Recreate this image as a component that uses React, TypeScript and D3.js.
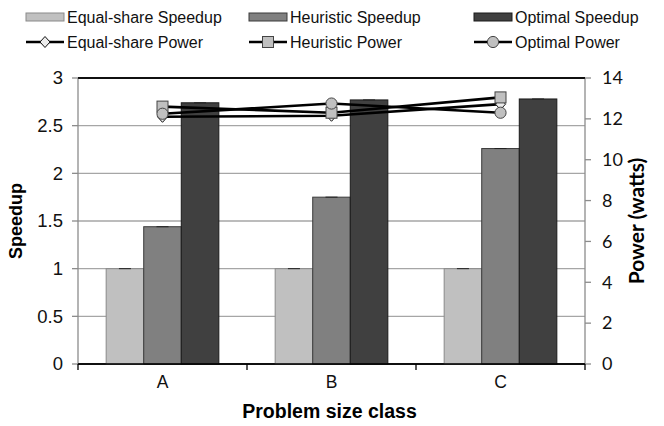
import React from "react";
import * as d3 from "d3";

const categories = ["A", "B", "C"];
const speedSeries = ["Equal-share Speedup", "Heuristic Speedup", "Optimal Speedup"];
const equalSpeedup = [1, 1, 1];
const heuristicSpeedup = [1.44, 1.75, 2.26];
const optimalSpeedup = [2.74, 2.77, 2.78];
const powerSeries = ["Equal-share Power", "Heuristic Power", "Optimal Power"];
const equalPower = [12.1, 12.15, 12.72];
const heuristicPower = [12.6, 12.3, 13.05];
const optimalPower = [12.25, 12.75, 12.3];
const leftTicks = [0, 0.5, 1, 1.5, 2, 2.5, 3];
const rightTicks = [0, 2, 4, 6, 8, 10, 12, 14];

const W = 664, H = 426;
const L = 78, R = 585, T = 78, B = 364;

const barFill = ["#c0c0c0", "#808080", "#404040"];
const barStroke = ["#8a8a8a", "#3a3a3a", "#1a1a1a"];
const markerShape = ["diamond", "square", "circle"];
const markerFill = ["#ececec", "#c0c0c0", "#c0c0c0"];

const ARIAL = "'Liberation Sans', Arial, sans-serif";
const CAL = "Lato, 'Open Sans', sans-serif";

function Marker({ shape, x, y, fill }: { shape: string; x: number; y: number; fill: string }) {
  if (shape === "diamond")
    return <path d={`M${x},${y - 5.5}L${x + 5},${y}L${x},${y + 5.5}L${x - 5},${y}Z`} fill={fill} stroke="#111" strokeWidth={1} />;
  if (shape === "square")
    return <rect x={x - 5.5} y={y - 5.5} width={11} height={11} fill={fill} stroke="#444" strokeWidth={1} />;
  return <circle cx={x} cy={y} r={5.6} fill={fill} stroke="#444" strokeWidth={1} />;
}

export default function App() {
  const x0 = d3.scaleBand<string>().domain(categories).range([L, R]).paddingInner(0).paddingOuter(0);
  const x1 = d3.scaleBand<number>().domain([0, 1, 2]).range([0, x0.bandwidth()]).paddingOuter(0.75).paddingInner(0);
  const yL = d3.scaleLinear().domain([0, 3]).range([B, T]);
  const yR = d3.scaleLinear().domain([0, 14]).range([B, T]);
  const speed = [equalSpeedup, heuristicSpeedup, optimalSpeedup];
  const power = [equalPower, heuristicPower, optimalPower];
  const line = d3
    .line<number>()
    .x((_, i) => (x0(categories[i]) as number) + x0.bandwidth() / 2)
    .y((v) => yR(v));

  return (
    <div style={{ position: "absolute", left: 0, top: 0 }}>
      <svg width={W} height={H} style={{ display: "block", background: "#fff" }}>
        {/* gridlines */}
        {leftTicks.map((t) => (
          <line key={t} x1={L} x2={R} y1={yL(t)} y2={yL(t)} stroke={t === 3 || t === 0 ? "#000" : "#a6a6a6"} strokeWidth={1.3} />
        ))}
        {/* bars */}
        {categories.map((c, ci) =>
          speed.map((s, si) => {
            const bx = (x0(c) as number) + (x1(si) as number);
            const bw = x1.bandwidth();
            return (
              <g key={c + si}>
                <rect x={bx} y={yL(s[ci])} width={bw} height={B - yL(s[ci])} fill={barFill[si]} stroke={barStroke[si]} strokeWidth={1} />
                <line x1={bx + bw / 2 - 6} x2={bx + bw / 2 + 6} y1={yL(s[ci])} y2={yL(s[ci])} stroke="#222" strokeWidth={1} />
              </g>
            );
          })
        )}
        {/* axes */}
        <line x1={L} x2={L} y1={T} y2={B} stroke="#8c8c8c" strokeWidth={1.3} />
        <line x1={R} x2={R} y1={T} y2={B} stroke="#8c8c8c" strokeWidth={1.3} />
        <line x1={L} x2={R} y1={B} y2={B} stroke="#000" strokeWidth={1.5} />
        <line x1={L} x2={R} y1={T} y2={T} stroke="#000" strokeWidth={1.3} />
        {leftTicks.map((t) => (
          <g key={"lt" + t}>
            <line x1={L - 6} x2={L} y1={yL(t)} y2={yL(t)} stroke="#8c8c8c" strokeWidth={1.3} />
            <text x={L - 15} y={yL(t)} dy="0.35em" textAnchor="end" fontFamily={ARIAL} fontSize={18.5} fill="#111">
              {t}
            </text>
          </g>
        ))}
        {rightTicks.map((t) => (
          <g key={"rt" + t}>
            <line x1={R} x2={R + 6} y1={yR(t)} y2={yR(t)} stroke="#8c8c8c" strokeWidth={1.3} />
            <text x={R + 17} y={yR(t)} dy="0.35em" textAnchor="start" fontFamily={CAL} fontSize={18} fill="#111">
              {t}
            </text>
          </g>
        ))}
        {[...categories.map((c) => x0(c) as number), R].map((xv, i) => (
          <line key={"ct" + i} x1={xv} x2={xv} y1={B} y2={B + 6} stroke="#000" strokeWidth={1.3} />
        ))}
        {categories.map((c) => (
          <text key={"cl" + c} x={(x0(c) as number) + x0.bandwidth() / 2} y={388} textAnchor="middle" fontFamily={ARIAL} fontSize={17.5} fill="#111">
            {c}
          </text>
        ))}
        {/* power lines */}
        {power.map((p, pi) => (
          <path key={"pl" + pi} d={line(p) as string} fill="none" stroke="#000" strokeWidth={2.6} />
        ))}
        {power.map((p, pi) =>
          p.map((v, i) => (
            <Marker key={"m" + pi + i} shape={markerShape[pi]} x={(x0(categories[i]) as number) + x0.bandwidth() / 2} y={yR(v)} fill={markerFill[pi]} />
          ))
        )}
        {/* titles */}
        <text x={(L + R) / 2 - 2} y={418} textAnchor="middle" fontFamily={ARIAL} fontWeight="bold" fontSize={19.5} fill="#000">
          Problem size class
        </text>
        <text transform={`translate(22,${(T + B) / 2}) rotate(-90)`} textAnchor="middle" fontFamily={ARIAL} fontWeight="bold" fontSize={18} fill="#000">
          Speedup
        </text>
        <text transform={`translate(644,${(T + B) / 2}) rotate(-90)`} textAnchor="middle" fontFamily={CAL} fontWeight="bold" fontSize={21} fill="#000">
          Power (watts)
        </text>
        {/* legend */}
        {speedSeries.map((s, i) => {
          const lx = [26, 249, 474][i];
          return (
            <g key={"lg" + i}>
              <rect x={lx} y={13} width={38} height={8} fill={barFill[i]} stroke={barStroke[i]} strokeWidth={1} />
              <text x={lx + 41} y={17} dy="0.35em" fontFamily={ARIAL} fontSize={16} fill="#111">
                {s}
              </text>
            </g>
          );
        })}
        {powerSeries.map((s, i) => {
          const lx = [26, 249, 474][i];
          return (
            <g key={"lp" + i}>
              <line x1={lx} x2={lx + 38} y1={42} y2={42} stroke="#000" strokeWidth={2.6} />
              <Marker shape={markerShape[i]} x={lx + 19} y={42} fill={markerFill[i]} />
              <text x={lx + 41} y={42} dy="0.35em" fontFamily={ARIAL} fontSize={16} fill="#111">
                {s}
              </text>
            </g>
          );
        })}
      </svg>
    </div>
  );
}
